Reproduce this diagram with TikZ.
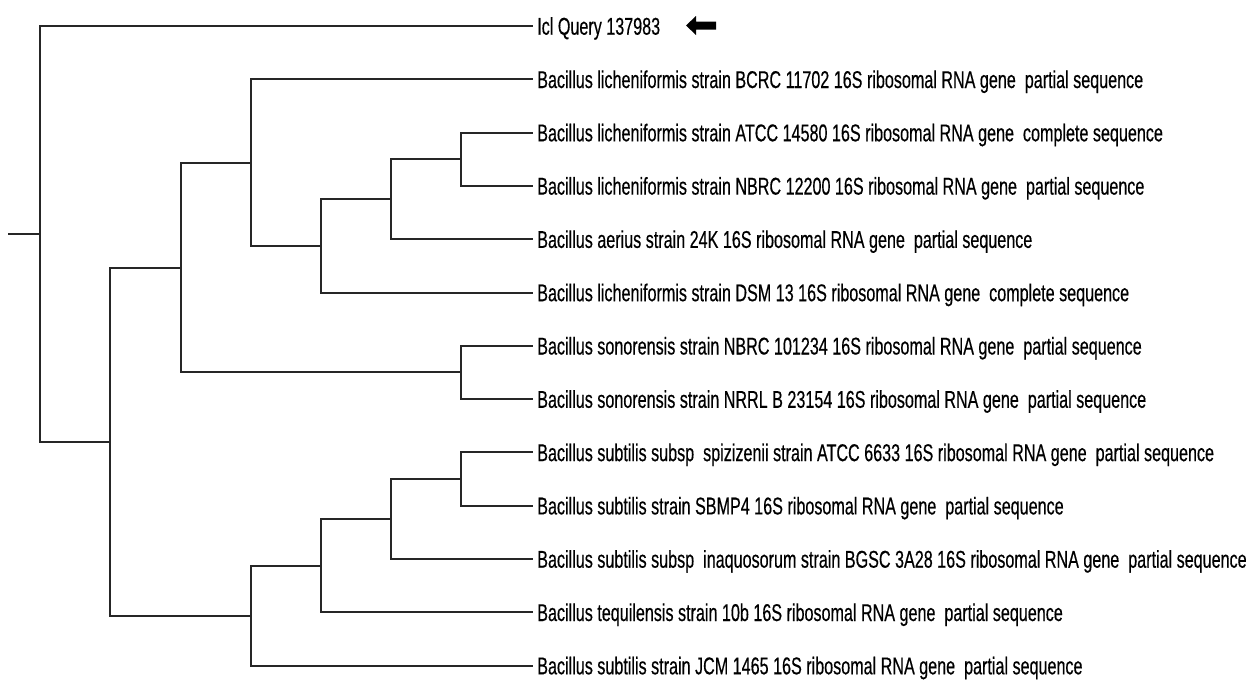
\documentclass[tikz,border=0pt]{standalone}
\usepackage{fontspec}
\newfontfamily\leaffont[FakeStretch=0.665,FakeBold=0.4]{Liberation Sans}
\begin{document}
\begin{tikzpicture}[x=0.75pt,y=-0.75pt,
  branch/.style={draw=black!85, line width=1.5pt, line cap=rect},
  leaflabel/.style={anchor=base west, inner sep=0pt, font=\leaffont\fontsize{18.2pt}{20pt}\selectfont, text=black}]
\useasboundingbox (0,0) rectangle (1247,679);
% leaf line ends and labels
\foreach \n/\k/\t in {q/0/{Icl Query 137983},
  e1/1/{Bacillus licheniformis strain BCRC 11702 16S ribosomal RNA gene\ \ partial sequence},
  e2/2/{Bacillus licheniformis strain ATCC 14580 16S ribosomal RNA gene\ \ complete sequence},
  e3/3/{Bacillus licheniformis strain NBRC 12200 16S ribosomal RNA gene\ \ partial sequence},
  e4/4/{Bacillus aerius strain 24K 16S ribosomal RNA gene\ \ partial sequence},
  e5/5/{Bacillus licheniformis strain DSM 13 16S ribosomal RNA gene\ \ complete sequence},
  e6/6/{Bacillus sonorensis strain NBRC 101234 16S ribosomal RNA gene\ \ partial sequence},
  e7/7/{Bacillus sonorensis strain NRRL B 23154 16S ribosomal RNA gene\ \ partial sequence},
  e8/8/{Bacillus subtilis subsp\ \ spizizenii strain ATCC 6633 16S ribosomal RNA gene\ \ partial sequence},
  e9/9/{Bacillus subtilis strain SBMP4 16S ribosomal RNA gene\ \ partial sequence},
  e10/10/{Bacillus subtilis subsp\ \ inaquosorum strain BGSC 3A28 16S ribosomal RNA gene\ \ partial sequence},
  e11/11/{Bacillus tequilensis strain 10b 16S ribosomal RNA gene\ \ partial sequence},
  e12/12/{Bacillus subtilis strain JCM 1465 16S ribosomal RNA gene\ \ partial sequence}}{
  \coordinate (\n) at (532,{26+53.3*\k});
  \node[leaflabel] (lab\n) at (537,{26+53.3*\k+8.7}) {\t};
}
% internal nodes
\coordinate (F) at (461,159.25);
\coordinate (E) at (391,199.2);
\coordinate (D) at (321,245.9);
\coordinate (C) at (251,162.6);
\coordinate (K) at (461,372.45);
\coordinate (B) at (181,267.5);
\coordinate (O) at (461,479.05);
\coordinate (N) at (391,519);
\coordinate (M) at (321,565.7);
\coordinate (L) at (251,615.6);
\coordinate (A) at (110,441.6);
\coordinate (R) at (40,233.8);
\coordinate (stub) at (9,233.8);
% branches
\draw[branch] (stub) -- (R);
\draw[branch] (q) -| (R) |- (A);
\draw[branch] (B) -| (A) |- (L);
\draw[branch] (C) -| (B) |- (K);
\draw[branch] (e1) -| (C) |- (D);
\draw[branch] (E) -| (D) |- (e5);
\draw[branch] (F) -| (E) |- (e4);
\draw[branch] (e2) -| (F) |- (e3);
\draw[branch] (e6) -| (K) |- (e7);
\draw[branch] (M) -| (L) |- (e12);
\draw[branch] (N) -| (M) |- (e11);
\draw[branch] (O) -| (N) |- (e10);
\draw[branch] (e8) -| (O) |- (e9);
% arrow pointing at the query
\coordinate (tip) at (686,25.5);
\fill[black] (tip) -- ++(10,-9.5) -- ++(0,5.5) -- ++(20,0) -- ++(0,8) -- ++(-20,0) -- ++(0,5.5) -- cycle;
\end{tikzpicture}
\end{document}
